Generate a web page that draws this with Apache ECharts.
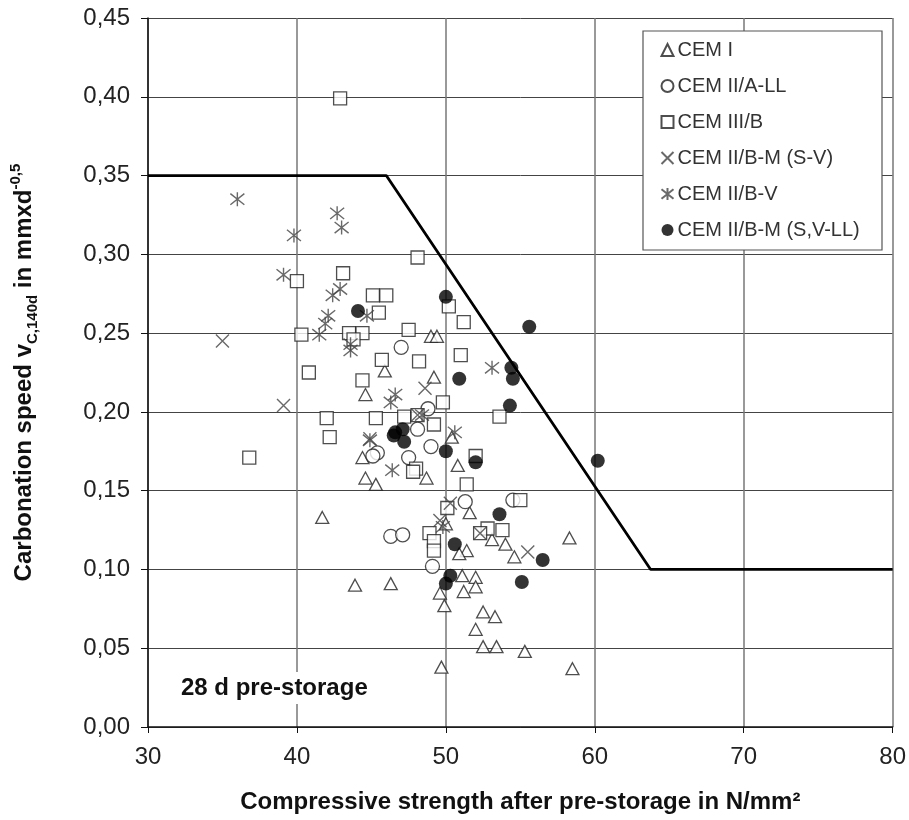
<!DOCTYPE html>
<html>
<head>
<meta charset="utf-8">
<title>Carbonation speed vs compressive strength</title>
<script src="https://cdn.jsdelivr.net/npm/echarts@6/dist/echarts.min.js"></script>
<style>
  html, body { margin: 0; padding: 0; background: #fff; }
  #chart { width: 909px; height: 820px; }
</style>
</head>
<body>
<div id="chart"></div>
<script>
// axis ticks
const xTicks = [30, 40, 50, 60, 70, 80]
const yTicks = [0, 0.05, 0.10, 0.15, 0.20, 0.25, 0.30, 0.35, 0.40, 0.45]

// [compressive strength, carbonation speed]
const cemI = [
  [49.0, 0.248], [49.4, 0.248], [45.9, 0.226], [49.2, 0.222], [44.6, 0.211],
  [44.4, 0.171], [44.6, 0.158], [45.3, 0.154], [48.7, 0.158], [50.8, 0.166],
  [50.4, 0.184], [51.6, 0.136], [41.7, 0.133], [53.1, 0.119], [54.0, 0.116],
  [54.6, 0.108], [58.3, 0.120], [51.4, 0.112], [50.9, 0.110], [50.0, 0.129],
  [51.1, 0.096], [52.0, 0.095], [52.0, 0.089], [51.2, 0.086], [49.6, 0.085],
  [49.9, 0.077], [46.3, 0.091], [43.9, 0.090], [52.5, 0.073], [53.3, 0.070],
  [52.0, 0.062], [52.5, 0.051], [53.4, 0.051], [55.3, 0.048], [49.7, 0.038],
  [58.5, 0.037]
]
const cemIIALL = [
  [47.0, 0.241], [48.8, 0.202], [48.1, 0.189], [45.4, 0.174], [45.1, 0.172],
  [49.0, 0.178], [47.5, 0.171], [46.3, 0.121], [47.1, 0.122], [49.1, 0.102],
  [51.3, 0.143], [54.5, 0.144]
]
const cemIIIB = [
  [42.9, 0.399], [48.1, 0.298], [43.1, 0.288], [40.0, 0.283], [45.1, 0.274],
  [46.0, 0.274], [45.5, 0.263], [47.5, 0.252], [40.3, 0.249], [43.5, 0.250],
  [44.4, 0.250], [43.8, 0.246], [50.2, 0.267], [51.2, 0.257], [51.0, 0.236],
  [45.7, 0.233], [48.2, 0.232], [44.4, 0.220], [40.8, 0.225], [49.8, 0.206],
  [45.3, 0.196], [47.2, 0.197], [48.1, 0.198], [49.2, 0.192], [42.0, 0.196],
  [42.2, 0.184], [36.8, 0.171], [48.0, 0.164], [47.8, 0.162], [51.4, 0.154],
  [53.6, 0.197], [52.0, 0.172], [55.0, 0.144], [50.1, 0.139], [52.8, 0.126],
  [53.8, 0.125], [52.3, 0.123], [48.9, 0.123], [49.2, 0.118], [49.2, 0.112]
]
const cemIIBMSV = [
  [35.0, 0.245], [39.1, 0.204], [48.6, 0.215], [48.1, 0.198], [55.5, 0.111],
  [52.3, 0.123], [50.3, 0.142], [44.9, 0.183], [49.6, 0.131]
]
const cemIIBV = [
  [36.0, 0.335], [39.8, 0.312], [42.7, 0.326], [43.0, 0.317], [39.1, 0.287],
  [42.4, 0.274], [42.9, 0.278], [42.1, 0.261], [41.9, 0.256], [41.5, 0.249],
  [43.6, 0.239], [43.6, 0.243], [44.7, 0.261], [46.6, 0.211], [46.3, 0.206],
  [50.6, 0.187], [46.4, 0.163], [44.9, 0.182], [49.8, 0.127], [53.1, 0.228],
  [48.4, 0.198]
]
const cemIIBMSVLL = [
  [44.1, 0.264], [50.0, 0.273], [55.6, 0.254], [54.4, 0.228], [54.5, 0.221],
  [50.9, 0.221], [54.3, 0.204], [60.2, 0.169], [50.0, 0.175], [52.0, 0.168],
  [46.6, 0.187], [47.1, 0.189], [47.2, 0.181], [46.5, 0.185], [53.6, 0.135],
  [50.6, 0.116], [56.5, 0.106], [55.1, 0.092], [50.3, 0.096], [50.0, 0.091]
]
// limit line
const limitLine = [[30, 0.35], [46, 0.35], [63.75, 0.10], [80, 0.10]]

const font = 'Liberation Sans, Arial, sans-serif'
const crossPath = 'path://M0,0L10,10M10,0L0,10'
const starPath = 'path://M0,1L10,9M10,1L0,9M5,0L5,10'

const openStyle = { color: '#fff', borderColor: '#222', borderWidth: 1.3 }
const strokeStyle = { color: 'none', borderColor: '#444', borderWidth: 1.4 }

const chart = echarts.init(document.getElementById('chart'))
chart.setOption({
  animation: false,
  textStyle: { fontFamily: font },
  grid: { left: 148, right: 15, top: 18, bottom: 93 },
  legend: {
    orient: 'vertical',
    left: 643,
    top: 31,
    padding: [9, 10, 10, 16],
    itemGap: 16,
    itemWidth: 12,
    itemHeight: 12,
    z: 5,
    textStyle: { fontSize: 20, color: '#333', fontFamily: font, padding: [0, 0, 0, -1] },
    data: ['CEM I', 'CEM II/A-LL', 'CEM III/B', 'CEM II/B-M (S-V)', 'CEM II/B-V', 'CEM II/B-M (S,V-LL)']
  },
  graphic: [
    {
      // legend frame
      type: 'rect',
      z: 3,
      shape: { x: 643, y: 31, width: 239, height: 219 },
      style: { fill: '#fff', stroke: '#555', lineWidth: 1.2 }
    },
    {
      type: 'text',
      left: 177,
      top: 672,
      z: 3,
      style: {
        text: '28 d pre-storage',
        fontSize: 24,
        fontWeight: 'bold',
        fontFamily: font,
        fill: '#111',
        backgroundColor: '#fff',
        padding: [4, 4]
      }
    }
  ],
  xAxis: {
    type: 'value',
    min: 30,
    max: 80,
    interval: 10,
    name: 'Compressive strength after pre-storage in N/mm²',
    nameLocation: 'middle',
    nameGap: 63,
    nameTextStyle: { fontSize: 24, fontWeight: 'bold', color: '#111', fontFamily: font },
    axisLine: { onZero: false, lineStyle: { color: '#111', width: 1.5 } },
    axisTick: { show: true, length: 6, lineStyle: { color: '#111' } },
    axisLabel: { fontSize: 24, color: '#222', margin: 18, formatter: v => xTicks.includes(v) ? String(v) : '' },
    splitLine: { show: true, lineStyle: { color: '#777', width: 1.5 } }
  },
  yAxis: {
    type: 'value',
    min: 0,
    max: 0.45,
    interval: 0.05,
    name: '{a|Carbonation speed v}{s|C,140d}{a| in mmxd}{p|-0,5}',
    nameLocation: 'middle',
    nameRotate: 90,
    nameGap: 108,
    nameTextStyle: {
      fontFamily: font,
      rich: {
        a: { fontSize: 24, fontWeight: 'bold', color: '#111', fontFamily: font, lineHeight: 32, verticalAlign: 'middle' },
        s: { fontSize: 15, fontWeight: 'bold', color: '#111', fontFamily: font, lineHeight: 32, verticalAlign: 'bottom', padding: [11, 0, 0, 0] },
        p: { fontSize: 15, fontWeight: 'bold', color: '#111', fontFamily: font, lineHeight: 32, verticalAlign: 'top', padding: [0, 0, 11, 0] }
      }
    },
    axisLine: { show: true, lineStyle: { color: '#111', width: 1.5 } },
    axisTick: { show: true, length: 7, lineStyle: { color: '#111' } },
    axisLabel: {
      fontSize: 24,
      color: '#222',
      margin: 18,
      formatter: v => {
        const t = yTicks.find(k => Math.abs(k - v) < 1e-9)
        return t === undefined ? '' : t.toFixed(2).replace('.', ',')
      }
    },
    splitLine: { show: true, lineStyle: { color: '#444', width: 1 } }
  },
  series: [
    {
      name: 'limit',
      type: 'line',
      data: limitLine,
      symbol: 'none',
      silent: true,
      z: 1,
      lineStyle: { color: '#000', width: 2.8 }
    },
    { name: 'CEM I', type: 'scatter', symbol: 'triangle', symbolSize: [13, 12], itemStyle: openStyle, data: cemI },
    { name: 'CEM II/A-LL', type: 'scatter', symbol: 'circle', symbolSize: 14, itemStyle: openStyle, data: cemIIALL },
    { name: 'CEM III/B', type: 'scatter', symbol: 'rect', symbolSize: 13, itemStyle: openStyle, data: cemIIIB },
    { name: 'CEM II/B-M (S-V)', type: 'scatter', symbol: crossPath, symbolSize: 13, itemStyle: strokeStyle, data: cemIIBMSV },
    { name: 'CEM II/B-V', type: 'scatter', symbol: starPath, symbolSize: 14, itemStyle: strokeStyle, data: cemIIBV },
    { name: 'CEM II/B-M (S,V-LL)', type: 'scatter', symbol: 'circle', symbolSize: 14, itemStyle: { color: '#000' }, data: cemIIBMSVLL }
  ]
})
</script>
</body>
</html>
